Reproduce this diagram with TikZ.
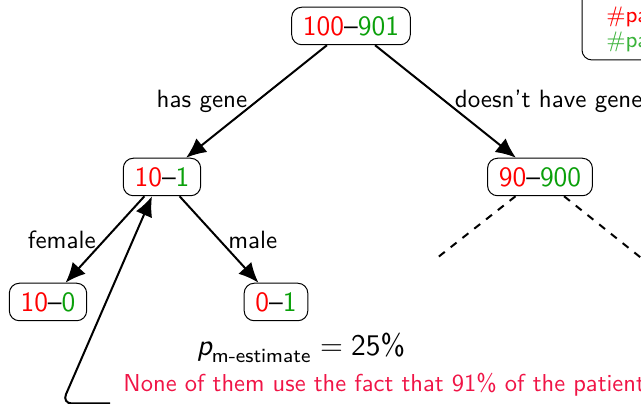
\documentclass[tikz,border=0pt]{standalone}
\usepackage{amsmath}
\usepackage{xcolor}
\usepackage{tikz}
\usetikzlibrary{arrows.meta, positioning}
\renewcommand{\familydefault}{\sfdefault}

\definecolor{negred}{RGB}{255,0,0}
\definecolor{posgreen}{RGB}{10,160,10}
\definecolor{notered}{RGB}{240,20,70}

\newcommand{\posneg}[2]{\textcolor{negred}{#1}--\textcolor{posgreen}{#2}}

\tikzset{
  split/.style={draw, rounded corners=4pt, fill=white, inner xsep=4.5pt,
    minimum height=15pt, text height=7.7pt, text depth=0pt,
    font=\fontsize{11.2}{13}\selectfont},
  branch/.style={-{Latex[length=8pt, width=7pt]}, thick},
  open/.style={thick, dashed},
  lbl/.style={font=\normalsize}
}

\begin{document}
\begin{tikzpicture}[x=0.4pt, y=-0.4pt]
  \useasboundingbox (0,0) rectangle (641,404);

  % tree
  \node[split] (root)    at (351,26)  {\posneg{100}{901}};
  \node[split] (tenone)  at (162,177) {\posneg{10}{1}};
  \node[split] (ninety)  at (540,177) {\posneg{90}{900}};
  \node[split] (tenzero) at (48,302)  {\posneg{10}{0}};
  \node[split] (zeroone) at (276,302) {\posneg{0}{1}};
  \coordinate (restl) at (437,258);
  \coordinate (restr) at (645,261);

  \draw[branch] (root) -- node[lbl, midway, left] {has gene} (tenone);
  \draw[branch] (root) -- node[lbl, midway, right] {doesn't have gene} (ninety);
  \draw[branch] (tenone) -- node[lbl, midway, left] {female} (tenzero);
  \draw[branch] (tenone) -- node[lbl, midway, right] {male} (zeroone);
  \draw[open] (ninety) -- (restl);
  \draw[open] (ninety) -- (restr);

  % legend, top right
  \node[anchor=south west, align=left, inner xsep=9.5pt, inner ysep=3pt,
    font=\small] (legend) at (582,60)
    {\textcolor{negred}{\#pa}\\[-1pt]\textcolor{posgreen!80}{\#pa}};
  \draw[rounded corners=4pt] ([yshift=20pt]legend.north west)
    |- ([xshift=20pt]legend.south east);

  % estimate and remark
  \node[font=\large] (estimate) at (301,348)
    {$\textit{p}_{\text{m-estimate}} = \text{25\%}$};
  \node[anchor=base west, text=notered, inner sep=0pt,
    font=\fontsize{9.8}{12}\selectfont] (remark) at (123,392)
    {None of them use the fact that 91\% of the patient};

  \coordinate (callout) at (110,403.5);
  \coordinate (bend) at (62,403.5);
  \draw[branch, rounded corners=4pt] (callout) -- (bend) -- ([xshift=-4pt]tenone.south);
\end{tikzpicture}
\end{document}
